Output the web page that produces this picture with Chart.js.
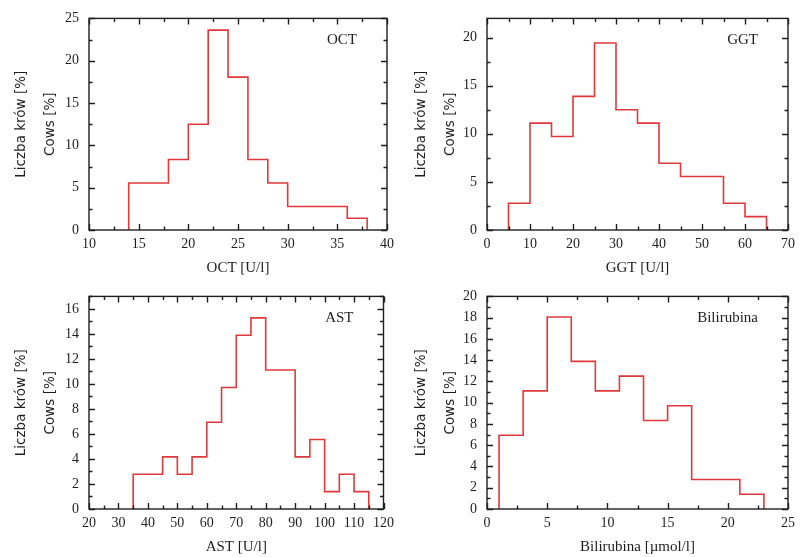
<!DOCTYPE html>
<html><head><meta charset="utf-8">
<script src="https://cdn.jsdelivr.net/npm/chart.js@4/dist/chart.umd.min.js"></script>
<style>
body{margin:0;background:#fff;width:801px;height:557px;position:relative;overflow:hidden}
canvas{position:absolute}
</style></head><body>
<canvas id="c1" width="400" height="278" style="left:0;top:0"></canvas>
<canvas id="c2" width="401" height="278" style="left:400px;top:0"></canvas>
<canvas id="c3" width="400" height="279" style="left:0;top:278px"></canvas>
<canvas id="c4" width="401" height="279" style="left:400px;top:278px"></canvas>
<script>
// Bin edges and percentage of cows per bin
const OCT_edges = [14,18,20,22,24,26,28,30,36,38];
const OCT_pct   = [5.56,8.33,12.5,23.61,18.06,8.33,5.56,2.78,1.39];
const GGT_edges = [5,10,15,20,25,30,35,40,45,55,60,65];
const GGT_pct   = [2.78,11.11,9.72,13.89,19.44,12.5,11.11,6.94,5.56,2.78,1.39];
const AST_edges = [35,45,50,55,60,65,70,75,80,90,95,100,105,110,115];
const AST_pct   = [2.78,4.17,2.78,4.17,6.94,9.72,13.89,15.28,11.11,4.17,5.56,1.39,2.78,1.39];
const BIL_edges = [1,3,5,7,9,11,13,15,17,21,23];
const BIL_pct   = [6.94,11.11,18.06,13.89,11.11,12.5,8.33,9.72,2.78,1.39];
const Y_TITLE = ['Liczba krów [%]','Cows [%]'];

const RED = '#e0393b';
const INK = '#1e1e1e';

function steps(edges, vals){
  const pts=[{x:edges[0],y:0}];
  for(let i=0;i<vals.length;i++) pts.push({x:edges[i+1],y:vals[i]});
  pts.push({x:edges[edges.length-1],y:0});
  return pts;
}
function tickList(min,max,step){
  const out=[]; for(let v=min; v<=max+1e-9; v+=step) out.push({value:Math.round(v*1e6)/1e6}); return out;
}

function makeChart(id, o){
  const frame = {
    id:'frame'+id,
    afterDraw(chart){
      const ctx=chart.ctx, a=chart.chartArea, xs=chart.scales.x, ys=chart.scales.y;
      ctx.save();
      ctx.strokeStyle=INK; ctx.lineWidth=1.4;
      ctx.beginPath();
      const tick=(val, major, horiz)=>{
        const L = major?6:3.5;
        if(horiz){
          const p=Math.round(xs.getPixelForValue(val))+0.5;
          ctx.moveTo(p,a.bottom); ctx.lineTo(p,a.bottom-L);
          ctx.moveTo(p,a.top); ctx.lineTo(p,a.top+L);
        } else {
          const p=Math.round(ys.getPixelForValue(val))+0.5;
          ctx.moveTo(a.left,p); ctx.lineTo(a.left+L,p);
          ctx.moveTo(a.right,p); ctx.lineTo(a.right-L,p);
        }
      };
      for(let v=o.xmin; v<=o.xmax+1e-9; v+=o.xminor){
        const r=(v-o.xmin)/o.xstep; tick(v, Math.abs(r-Math.round(r))<1e-6, true);
      }
      for(let v=0; v<=o.ymax+1e-9; v+=o.yminor){
        const r=v/o.ystep; tick(v, Math.abs(r-Math.round(r))<1e-6, false);
      }
      ctx.stroke();
      ctx.strokeRect(a.left, a.top, a.right-a.left, a.bottom-a.top);
      ctx.fillStyle=INK;
      ctx.font='15px "Liberation Serif"';
      ctx.textAlign='right'; ctx.textBaseline='middle';
      ctx.fillText(o.label, a.right-30, a.top+22);
      ctx.restore();
    }
  };
  return new Chart(document.getElementById(id), {
    type:'line',
    data:{datasets:[{data:steps(o.edges,o.vals), stepped:'after', borderColor:RED, borderWidth:1.6,
      pointRadius:0, fill:false, tension:0}]},
    options:{
      responsive:false, animation:false, devicePixelRatio:1,
      layout:{autoPadding:false, padding:{top:16,right:o.padR,left:0,bottom:0}},
      plugins:{legend:{display:false}, tooltip:{enabled:false}},
      scales:{
        x:{type:'linear', min:o.xmin, max:o.xmax,
          grid:{display:false, drawTicks:false}, border:{display:false},
          ticks:{padding:6, autoSkip:false, maxRotation:0,
            font:{family:'Liberation Serif', size:14}, color:INK},
          title:{display:true, text:o.xtitle, color:INK,
            font:{family:'Liberation Serif', size:15}, padding:{top:0,bottom:1}},
          afterBuildTicks(s){ s.ticks=tickList(o.xmin,o.xmax,o.xstep); },
          afterFit(s){ s.height=48; }
        },
        y:{type:'linear', min:0, max:o.ymax,
          grid:{display:false, drawTicks:false}, border:{display:false},
          ticks:{padding:10, font:{family:'Liberation Serif', size:14}, color:INK},
          title:{display:true, text:Y_TITLE, color:INK,
            font:{family:'DejaVu Sans', size:13.5, lineHeight:2.15}, padding:{top:7,bottom:0}},
          afterBuildTicks(s){ s.ticks=tickList(0,o.ymax,o.ystep); },
          afterFit(s){ s.width=o.yw; }
        }
      }
    },
    plugins:[frame]
  });
}

makeChart('c1',{edges:OCT_edges, vals:OCT_pct, label:'OCT', xtitle:'OCT [U/l]',
  xmin:10,xmax:40,xstep:5,xminor:2.5, ymax:25,ystep:5,yminor:2.5, yw:89, padR:9});
makeChart('c2',{edges:GGT_edges, vals:GGT_pct, label:'GGT', xtitle:'GGT [U/l]',
  xmin:0,xmax:70,xstep:10,xminor:5, ymax:22,ystep:5,yminor:2.5, yw:87, padR:12});
makeChart('c3',{edges:AST_edges, vals:AST_pct, label:'AST', xtitle:'AST [U/l]',
  xmin:20,xmax:120,xstep:10,xminor:5, ymax:17,ystep:2,yminor:1, yw:89, padR:9});
makeChart('c4',{edges:BIL_edges, vals:BIL_pct, label:'Bilirubina', xtitle:'Bilirubina [µmol/l]',
  xmin:0,xmax:25,xstep:5,xminor:2.5, ymax:20,ystep:2,yminor:1, yw:87, padR:12});
</script>
</body></html>
